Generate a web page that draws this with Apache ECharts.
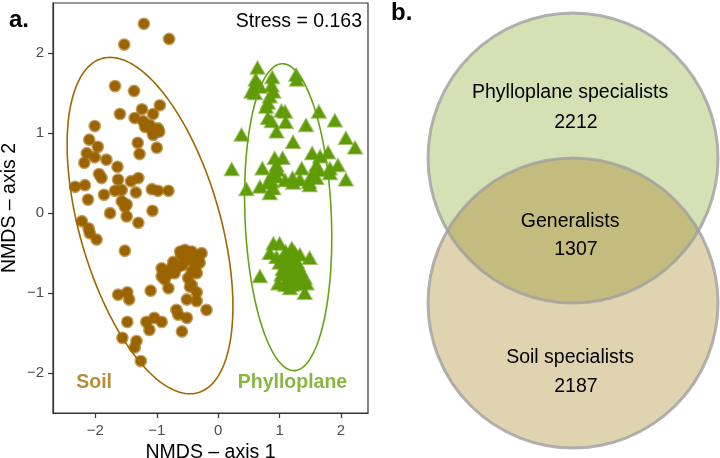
<!DOCTYPE html>
<html><head><meta charset="utf-8">
<script src="https://cdn.jsdelivr.net/npm/echarts@6.0.0/dist/echarts.min.js"></script>
<style>html,body{margin:0;padding:0;background:#fff}#c{width:720px;height:458px}</style>
</head><body><div id="c"></div>
<script>
// ---------- data ----------
const soilX = [-1.21,-0.80,-1.53,-1.68,-1.37,-0.95,-1.24,-1.06,-1.60,-1.36,-2.01,-1.22,-1.11,-0.98,-1.19,-1.08,-0.96,-1.06,-2.10,-1.96,-1.31,-1.00,-1.28,-2.14,-2.01,-2.18,-1.82,-1.64,-1.94,-1.90,-1.63,-1.42,-1.30,-2.33,-2.17,-1.68,-1.57,-1.08,-0.98,-0.81,-1.34,-1.86,-2.12,-1.57,-1.49,-1.52,-1.07,-1.76,-1.49,-1.30,-2.22,-2.11,-2.09,-1.98,-1.52,
  -0.54,-0.43,-0.27,-0.60,-0.49,-0.33,-0.73,-0.92,-0.76,-0.65,-0.43,-0.38,-0.71,-0.92,-0.87,-0.81,-0.49,-0.43,-0.46,-1.10,-1.63,-1.48,-1.45,-0.35,-0.51,-0.35,-0.19,-0.68,-0.65,-0.51,-1.48,-1.17,-1.04,-0.92,-1.12,-0.59,-1.56,-1.33,-1.36,-1.26,
  -0.55,-0.40,-0.30,-0.58,-0.62,-0.35,-0.80];
const soilY = [2.37,2.18,2.11,1.59,1.53,1.35,1.30,1.24,1.24,1.19,1.09,1.15,1.10,1.06,1.08,1.04,1.02,0.98,0.92,0.83,0.88,0.82,0.74,0.75,0.70,0.63,0.67,0.58,0.49,0.44,0.42,0.40,0.44,0.33,0.35,0.28,0.29,0.30,0.28,0.28,0.26,0.23,0.17,0.15,0.11,0.08,0.03,0.00,-0.04,-0.12,-0.10,-0.19,-0.25,-0.33,-0.47,
  -0.46,-0.48,-0.50,-0.52,-0.58,-0.56,-0.61,-0.69,-0.69,-0.67,-0.73,-0.69,-0.75,-0.79,-0.83,-0.94,-0.81,-0.90,-0.92,-0.97,-1.02,-0.99,-1.08,-0.99,-1.08,-1.10,-1.21,-1.21,-1.27,-1.31,-1.36,-1.36,-1.31,-1.36,-1.46,-1.48,-1.56,-1.60,-1.68,-1.85,
  -0.55,-0.60,-0.62,-0.65,-0.48,-0.75,-0.75];
const phylloX = [0.64,1.27,0.88,0.61,0.63,1.28,0.87,0.68,0.54,0.60,0.90,0.84,0.81,0.78,1.03,1.09,1.64,1.90,0.81,0.87,1.10,1.43,0.95,0.38,2.08,1.22,2.23,1.53,1.79,0.92,1.05,1.66,0.22,0.72,0.95,0.97,1.36,1.60,1.63,1.82,1.95,0.87,1.52,1.60,1.82,2.08,1.09,1.21,1.22,1.33,0.81,1.48,1.49,0.90,0.68,0.46,0.84,0.95,0.87,
  0.90,1.00,0.84,1.20,1.33,1.49,1.06,1.17,1.28,1.11,1.22,1.33,1.03,1.14,1.28,1.41,0.68,0.98,1.09,1.20,1.33,1.44,1.41,1.17,
  1.00,1.10,1.25,1.05,1.18,1.30,0.95,1.15,1.22,1.36];
const phylloY = [1.82,1.73,1.70,1.67,1.63,1.67,1.60,1.58,1.52,1.50,1.52,1.46,1.38,1.33,1.28,1.27,1.27,1.16,1.19,1.15,1.14,1.10,1.02,0.98,0.94,0.89,0.82,0.75,0.76,0.69,0.69,0.71,0.55,0.56,0.60,0.54,0.56,0.60,0.54,0.56,0.60,0.47,0.47,0.44,0.50,0.42,0.41,0.44,0.38,0.42,0.38,0.39,0.35,0.31,0.33,0.30,0.25,0.46,0.40,
  -0.38,-0.38,-0.50,-0.44,-0.52,-0.56,-0.56,-0.61,-0.61,-0.69,-0.73,-0.71,-0.77,-0.81,-0.79,-0.81,-0.79,-0.88,-0.90,-0.90,-0.88,-0.88,-1.00,-0.94,
  -0.62,-0.48,-0.50,-0.70,-0.78,-0.65,-0.55,-0.55,-0.88,-0.80];
const axisTicks = [-2, -1, 0, 1, 2];
const groupNames = ['Soil', 'Phylloplane'];
// confidence ellipses: centre and covariance (data units)
const ellipseSoil = [-1.11, -0.155, 1.8225, 4.431, -1.368];
const ellipsePhyllo = [1.14, -0.05, 0.504, 3.686, -0.18];
const stressLabel = 'Stress = 0.163';
const vennNames = ['Phylloplane specialists', 'Generalists', 'Soil specialists'];
const vennCounts = [2212, 1307, 2187];

// ---------- layout / style ----------
const FONT = '"Liberation Sans", Arial, Helvetica, sans-serif';
const SOIL = '#9b6400';
const vennCircles = [[0, 0.5], [0, -0.5]];   // unit-radius circles
const vennNameY = [0.948, 0.059, -0.879];
const vennCountY = [0.741, -0.134, -1.079];
const groupLabelPos = [[-2.02, -2.12], [1.21, -2.12]];

function ellipseSeries(p, color) {
  return {
    type: 'custom', xAxisIndex: 0, yAxisIndex: 0, z: 5, silent: true, clip: true,
    data: [[p[0], p[1]]],
    renderItem: function (params, api) {
      const a = Math.sqrt(p[2]);
      const b = p[4] / a;
      const c = Math.sqrt(p[3] - b * b);
      const pts = [];
      for (let i = 0; i <= 200; i++) {
        const t = 2 * Math.PI * i / 200;
        const u = Math.cos(t), v = Math.sin(t);
        pts.push(api.coord([p[0] + a * u, p[1] + b * u + c * v]));
      }
      return { type: 'polyline', shape: { points: pts }, style: { stroke: color, lineWidth: 1.6, fill: null } };
    }
  };
}

const chart = echarts.init(document.getElementById('c'), null, { renderer: 'canvas' });
const axisCol = '#333333';
const tickFmt = v => String(v).replace('-', '\u2212');

chart.setOption({
  backgroundColor: '#fff',
  animation: false,
  grid: [
    { left: 53, top: 3, width: 315, height: 410, show: true, borderColor: axisCol, borderWidth: 1.2, backgroundColor: 'transparent', containLabel: false, outerBoundsMode: 'none' },
    { left: 428, top: 13, width: 290, height: 435, show: false, containLabel: false, outerBoundsMode: 'none' }
  ],
  xAxis: [
    { gridIndex: 0, type: 'value', min: -2.69, max: 2.44,
      name: 'NMDS \u2013 axis 1', nameLocation: 'middle', nameGap: 28,
      nameTextStyle: { fontFamily: FONT, fontSize: 19.5, color: '#000' },
      axisLine: { show: true, onZero: false, lineStyle: { color: axisCol, width: 1.2 } },
      axisTick: { show: true, inside: false, length: 5, customValues: axisTicks, lineStyle: { color: axisCol, width: 1.2 } },
      axisLabel: { customValues: axisTicks, formatter: tickFmt, color: '#4d4d4d', fontFamily: FONT, fontSize: 15, margin: 10 },
      splitLine: { show: false } },
    { gridIndex: 1, type: 'value', min: -1, max: 1, show: false }
  ],
  yAxis: [
    { gridIndex: 0, type: 'value', min: -2.50, max: 2.63,
      name: 'NMDS \u2013 axis 2', nameLocation: 'middle', nameGap: 33,
      nameTextStyle: { fontFamily: FONT, fontSize: 19.5, color: '#000' },
      axisLine: { show: true, onZero: false, lineStyle: { color: axisCol, width: 1.2 } },
      axisTick: { show: true, inside: false, length: 5, customValues: axisTicks, lineStyle: { color: axisCol, width: 1.2 } },
      axisLabel: { customValues: axisTicks, formatter: tickFmt, color: '#4d4d4d', fontFamily: FONT, fontSize: 15, margin: 9 },
      splitLine: { show: false } },
    { gridIndex: 1, type: 'value', min: -1.5, max: 1.5, show: false }
  ],
  graphic: [
    { type: 'text', left: 9, top: 8, style: { text: 'a.', font: 'bold 24px ' + FONT, fill: '#000' } },
    { type: 'text', left: 391, top: 1, style: { text: 'b.', font: 'bold 24px ' + FONT, fill: '#000' } },
    { type: 'text', right: 720 - 362, top: 12, style: { text: stressLabel, font: '19.5px ' + FONT, fill: '#000', align: 'right' } }
  ],
  series: [
    { type: 'scatter', name: groupNames[0], xAxisIndex: 0, yAxisIndex: 0, z: 2,
      data: soilX.map((x, i) => [x, soilY[i]]),
      symbol: 'circle', symbolSize: 10,
      itemStyle: { color: SOIL, borderColor: 'rgba(155,101,0,0.62)', borderWidth: 2.8, opacity: 1 } },
    { type: 'scatter', name: groupNames[1], xAxisIndex: 0, yAxisIndex: 0, z: 3,
      data: phylloX.map((x, i) => [x, phylloY[i]]),
      symbol: 'triangle', symbolSize: [13.5, 12],
      itemStyle: { color: '#609c08', borderColor: 'rgba(96,156,8,0.6)', borderWidth: 2, opacity: 1 } },
    ellipseSeries(ellipseSoil, '#a06800'),
    ellipseSeries(ellipsePhyllo, '#66a412'),
    { type: 'scatter', xAxisIndex: 0, yAxisIndex: 0, z: 6, symbolSize: 0, silent: true,
      data: groupLabelPos.map((p, i) => ({ value: p, name: groupNames[i],
        label: { show: true, position: 'inside', formatter: groupNames[i], color: i === 0 ? '#a56f08' : '#6aa414',
          fontFamily: FONT, fontWeight: 'bold', fontSize: 19.5 } })) },
    { type: 'custom', xAxisIndex: 1, yAxisIndex: 1, silent: true, clip: false,
      data: [[0, 0]],
      renderItem: function (params, api) {
        const c1 = api.coord(vennCircles[0]), c2 = api.coord(vennCircles[1]);
        const r = api.size([1, 0])[0];
        const d = Math.abs(c2[1] - c1[1]);
        const a = Math.acos((d / 2) / r);
        const lens = [];
        for (let i = 0; i <= 80; i++) { const th = Math.PI / 2 + a - 2 * a * i / 80; lens.push([c1[0] + r * Math.cos(th), c1[1] + r * Math.sin(th)]); }
        for (let i = 0; i <= 80; i++) { const th = -Math.PI / 2 + a - 2 * a * i / 80; lens.push([c2[0] + r * Math.cos(th), c2[1] + r * Math.sin(th)]); }
        const kids = [
          { type: 'circle', shape: { cx: c1[0], cy: c1[1], r: r }, style: { fill: '#d3e1b5' } },
          { type: 'circle', shape: { cx: c2[0], cy: c2[1], r: r }, style: { fill: '#e0d3b0' } },
          { type: 'polygon', shape: { points: lens }, style: { fill: '#c4bb7e' } },
          { type: 'circle', shape: { cx: c1[0], cy: c1[1], r: r }, style: { fill: null, stroke: 'rgba(160,160,160,0.8)', lineWidth: 3 } },
          { type: 'circle', shape: { cx: c2[0], cy: c2[1], r: r }, style: { fill: null, stroke: 'rgba(160,160,160,0.8)', lineWidth: 3 } }
        ];
        vennNames.forEach((n, i) => {
          const p1 = api.coord([-0.02, vennNameY[i]]);
          const p2 = api.coord([0.02, vennCountY[i]]);
          kids.push({ type: 'text', style: { text: n, x: p1[0], y: p1[1], align: 'center', verticalAlign: 'middle', fill: '#000', font: '19.5px ' + FONT } });
          kids.push({ type: 'text', style: { text: String(vennCounts[i]), x: p2[0], y: p2[1], align: 'center', verticalAlign: 'middle', fill: '#000', font: '19.5px ' + FONT } });
        });
        return { type: 'group', children: kids };
      } }
  ]
});
</script></body></html>
